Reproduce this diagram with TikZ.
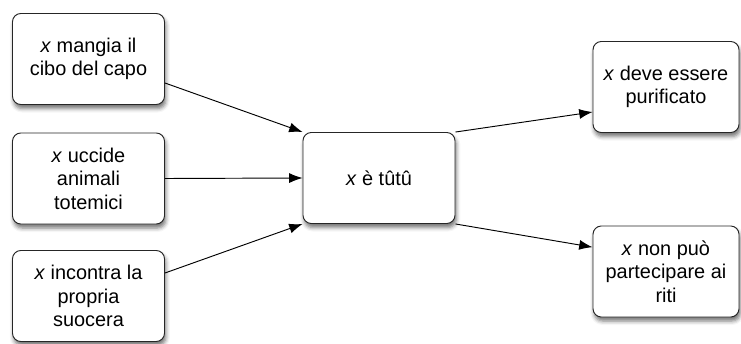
\documentclass[tikz,border=0pt]{standalone}
\usepackage{fontspec}
\setmainfont{Liberation Sans}
\usetikzlibrary{arrows.meta,shadows.blur}
\definecolor{bordogrigio}{gray}{0.15}
\tikzset{
    stato/.style={draw=bordogrigio,line width=0.8pt,fill=white,rounded corners=0.25cm,
        align=center,minimum width=4.56cm,minimum height=2.73cm,
        font=\fontsize{17}{20}\selectfont,
        blur shadow={shadow xshift=0.04cm,shadow yshift=-0.12cm,shadow blur radius=0.12cm,shadow opacity=55}},
    freccia/.style={-{Latex[length=0.4cm,width=0.3cm]},line width=0.8pt}
}

\begin{document}
\begin{tikzpicture}[x=0.03cm,y=-0.03cm]
        \useasboundingbox (0,0) rectangle (741,344);

        \node[stato] (mangia) at (88.5,59) {\textit{x} mangia il\\cibo del capo};
        \node[stato] (uccide) at (88.5,178.5) {\textit{x} uccide\\animali\\totemici};
        \node[stato] (incontra) at (88.5,296) {\textit{x} incontra la\\propria\\suocera};

        \node[stato] (tutu) at (379,178) {\textit{x} è tûtû};

        \node[stato,minimum width=4.38cm] (purificato) at (666,87) {\textit{x} deve essere\\purificato};
        \node[stato,minimum width=4.38cm] (riti) at (666,271.5) {\textit{x} non può\\partecipare ai\\riti};

        \draw[freccia] ([yshift=-0.72cm]mangia.east) -- (tutu.north west);
        \draw[freccia] (uccide.east) -- (tutu.west);
        \draw[freccia] ([yshift=0.69cm]incontra.east) -- (tutu.south west);
        \draw[freccia] (tutu.north east) -- ([yshift=-0.75cm]purificato.west);
        \draw[freccia] (tutu.south east) -- ([yshift=0.73cm]riti.west);
    \end{tikzpicture}
\end{document}
